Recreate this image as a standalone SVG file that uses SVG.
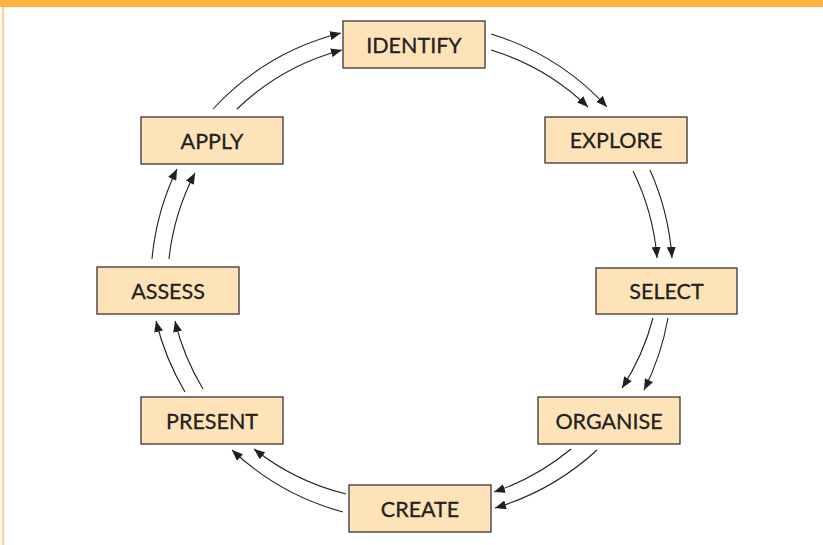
<svg xmlns="http://www.w3.org/2000/svg" width="823" height="545" viewBox="0 0 823 545">
<style>
.box{fill:#FEE3B8;stroke:#3a3536;stroke-width:1.3}
.lbl{font-family:Lato,"Liberation Sans",sans-serif;font-size:21.5px;fill:#231f20;text-anchor:middle;stroke:#231f20;stroke-width:0.3}
.c{fill:none;stroke:#231f20;stroke-width:1.1;marker-end:url(#ah)}
</style>
<defs>
<marker id="ah" markerUnits="userSpaceOnUse" markerWidth="12" markerHeight="9" refX="11" refY="4.5" orient="auto">
<path d="M0,0 L11,4.5 L0,9 z" fill="#231f20"/>
</marker>
</defs>
<rect x="0" y="0" width="823" height="545" fill="#ffffff"/>
<rect x="0" y="0" width="823" height="7" fill="#FDB241"/>
<rect x="2.5" y="7" width="1.2" height="538" fill="#FDB241"/>
<g id="connectors">
<path class="c" d="M491,34 A260,260 0 0 1 607,107"/>
<path class="c" d="M491,50 A240,240 0 0 1 588,107"/>
<path class="c" d="M650,170 A260,260 0 0 1 672,258"/>
<path class="c" d="M633,171 A240,240 0 0 1 657,258"/>
<path class="c" d="M668,318 A260,260 0 0 1 644,390"/>
<path class="c" d="M653,318 A240,240 0 0 1 622,388"/>
<path class="c" d="M571,449 A240,240 0 0 1 494,492"/>
<path class="c" d="M597,450 A260,260 0 0 1 495,508"/>
<path class="c" d="M346,494 A240,240 0 0 1 254,449"/>
<path class="c" d="M343,512 A260,260 0 0 1 232,450"/>
<path class="c" d="M185,392 A260,260 0 0 1 156,321"/>
<path class="c" d="M203,389 A240,240 0 0 1 175,321"/>
<path class="c" d="M152,259 A260,260 0 0 1 177,169"/>
<path class="c" d="M169,259 A240,240 0 0 1 195,173"/>
<path class="c" d="M213,109 A260,260 0 0 1 341,33"/>
<path class="c" d="M237,109 A240,240 0 0 1 342,50"/>
</g>
<g id="identify"><rect class="box" x="343" y="21" width="142" height="47"/><text class="lbl" x="414" y="52.5">IDENTIFY</text></g>
<g id="explore"><rect class="box" x="545" y="117" width="142" height="46"/><text class="lbl" x="616" y="148">EXPLORE</text></g>
<g id="select"><rect class="box" x="596" y="268" width="141" height="46"/><text class="lbl" x="666.5" y="299">SELECT</text></g>
<g id="organise"><rect class="box" x="538" y="397" width="142" height="47"/><text class="lbl" x="609" y="428.5">ORGANISE</text></g>
<g id="create"><rect class="box" x="349" y="485" width="142" height="47"/><text class="lbl" x="420" y="516.5">CREATE</text></g>
<g id="present"><rect class="box" x="141" y="397" width="142" height="47"/><text class="lbl" x="212" y="428.5">PRESENT</text></g>
<g id="assess"><rect class="box" x="97" y="267" width="142" height="47"/><text class="lbl" x="168" y="298.5">ASSESS</text></g>
<g id="apply"><rect class="box" x="141" y="117" width="142" height="47"/><text class="lbl" x="212" y="148.5">APPLY</text></g>
</svg>
